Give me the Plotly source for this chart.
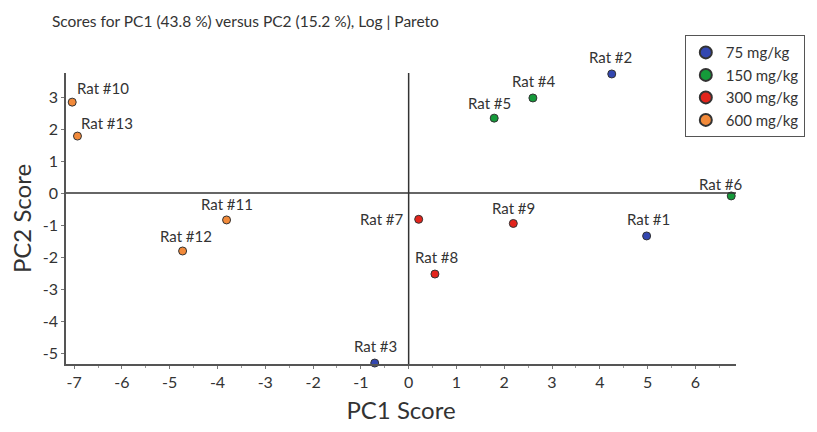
import plotly.graph_objects as go

groups = ["75 mg/kg", "150 mg/kg", "300 mg/kg", "600 mg/kg"]
colors = ["#3347b0", "#159a3a", "#e3241c", "#f28a3a"]

rats = ["Rat #1", "Rat #2", "Rat #3", "Rat #4", "Rat #5", "Rat #6", "Rat #7",
        "Rat #8", "Rat #9", "Rat #10", "Rat #11", "Rat #12", "Rat #13"]
pc1 = [4.98, 4.25, -0.71, 2.60, 1.79, 6.75, 0.21, 0.55, 2.19, -7.04, -3.81, -4.73, -6.93]
pc2 = [-1.34, 3.72, -5.31, 2.97, 2.34, -0.09, -0.82, -2.53, -0.95, 2.84, -0.84, -1.81, 1.78]
dose = [0, 0, 0, 1, 1, 1, 2, 2, 2, 3, 3, 3, 3]
x_ticks = list(range(-7, 7))
y_ticks = list(range(-5, 4))

# label placement (style): anchor, pixel shift x, pixel shift y
label_style = [("center", 2, 17), ("center", -1, 17), ("center", 1, 17),
               ("center", 1, 17), ("center", -5, 15), ("center", -10, 12),
               ("right", -13, 0), ("center", 2, 17), ("center", 0, 15),
               ("left", 3, 14), ("center", 0, 16), ("center", 3, 15),
               ("left", 2, 13)]

FONT = "Lato"
fig = go.Figure()
for g, (name, col) in enumerate(zip(groups, colors)):
    idx = [i for i in range(len(rats)) if dose[i] == g]
    fig.add_trace(go.Scatter(
        x=[pc1[i] for i in idx], y=[pc2[i] for i in idx],
        text=[rats[i] for i in idx], mode="markers", name=name,
        marker=dict(color=col, size=8, line=dict(color="#333333", width=1)),
        cliponaxis=False,
    ))

for i, r in enumerate(rats):
    anc, dx, dy = label_style[i]
    fig.add_annotation(x=pc1[i], y=pc2[i], text=r, showarrow=False,
                       xanchor=anc, yanchor="middle", xshift=dx, yshift=dy,
                       font=dict(family=FONT, size=15, color="#333333"))

fig.add_shape(type="line", xref="x", yref="paper", x0=0, x1=0, y0=0, y1=1,
              line=dict(color="#333333", width=1.5))
fig.add_shape(type="line", xref="paper", yref="y", x0=0, x1=1, y0=0, y1=0,
              line=dict(color="#333333", width=1.5))

fig.update_layout(
    width=817, height=432,
    margin=dict(l=66, r=79, t=73, b=68),
    paper_bgcolor="white", plot_bgcolor="white",
    font=dict(family=FONT, color="#333333"),
    title=dict(text="Scores for PC1 (43.8 %) versus PC2 (15.2 %), Log | Pareto",
               x=0.0636, xanchor="left", y=0.95, yanchor="middle",
               font=dict(size=15.5, color="#333333")),
    legend=dict(x=1.1027, y=1.13, xanchor="right", yanchor="top",
                bordercolor="#555555", borderwidth=1, bgcolor="white",
                font=dict(size=15, color="#333333"), itemsizing="constant",
                tracegroupgap=0),
    showlegend=True,
)
fig.update_xaxes(
    range=[-7.17, 6.85], tickmode="array", tickvals=x_ticks,
    ticktext=[str(v) for v in x_ticks],
    showgrid=False, zeroline=False, showline=True, linecolor="#555555", linewidth=1.5,
    ticks="outside", ticklen=3, tickcolor="#777777",
    minor=dict(ticks="outside", ticklen=2, dtick=0.5, tickcolor="#999999"),
    tickfont=dict(size=16, color="#333333"),
    title=dict(text="PC1 Score", font=dict(size=24, color="#333333"), standoff=12),
)
fig.update_yaxes(
    range=[-5.34, 3.75], tickmode="array", tickvals=y_ticks,
    ticktext=[str(v) for v in y_ticks],
    showgrid=False, zeroline=False, showline=True, linecolor="#555555", linewidth=1.5,
    ticks="outside", ticklen=3, tickcolor="#777777",
    tickfont=dict(size=16, color="#333333"),
    title=dict(text="PC2 Score", font=dict(size=24, color="#333333"), standoff=4),
)

fig.write_html("out.html", config={"displayModeBar": False},
               post_script="document.body.style.margin='0';")
